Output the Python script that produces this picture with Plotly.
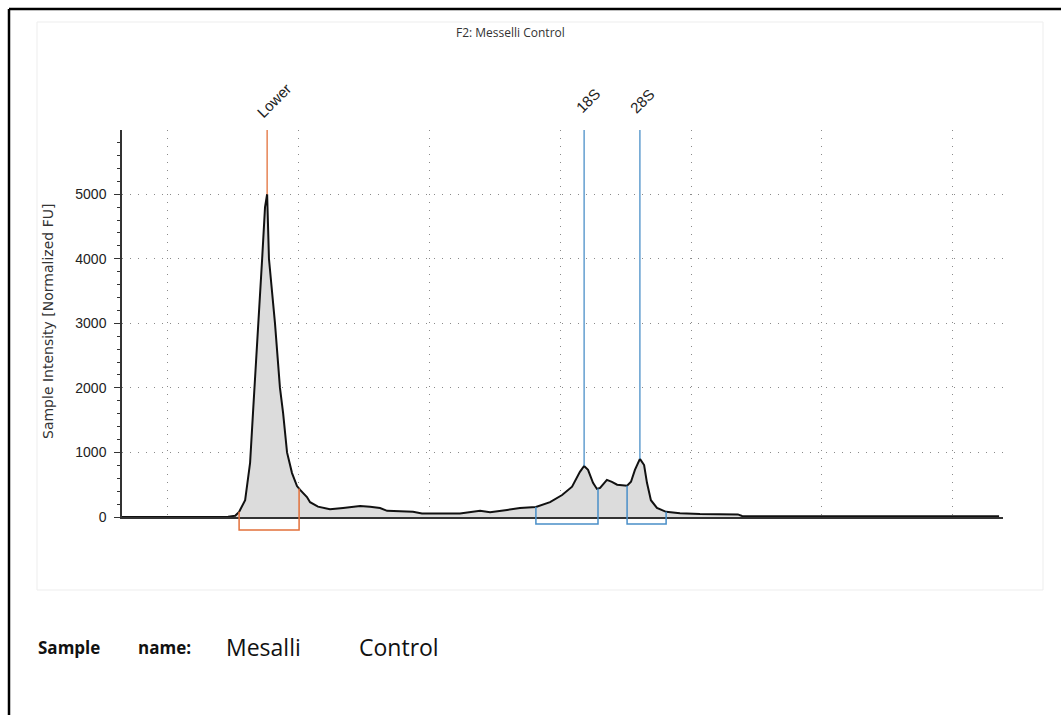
import numpy as np
import plotly.graph_objects as go

# ---------------- data (migration time in s, intensity in FU) ----------------
time_s = [18.28, 22.33, 22.60, 22.75, 22.98, 23.17, 23.28, 23.36, 23.47, 23.63,
          23.74, 23.82, 23.89, 24.12, 24.31, 24.43, 24.58, 24.77, 24.96, 25.08,
          25.34, 25.46, 25.76, 26.22, 26.72, 27.37, 27.75, 28.13, 28.40, 28.89,
          29.39, 29.73, 31.18, 31.95, 32.33, 32.98, 33.47, 34.08, 34.62, 35.08,
          35.46, 35.76, 35.92, 36.07, 36.26, 36.41, 36.53, 36.79, 36.98, 37.18,
          37.56, 37.71, 37.86, 38.05, 38.21, 38.32, 38.47, 38.70, 39.05, 39.58,
          40.34, 41.79, 41.95, 43.40, 51.76]
intensity = [0, 5, 20, 80, 260, 840, 1610, 2120, 3000, 4000,
             4800, 5000, 4000, 3000, 2000, 1610, 1000, 680, 480, 420,
             310, 230, 160, 120, 140, 170, 160, 140, 95, 90,
             80, 55, 55, 95, 75, 110, 140, 155, 230, 340,
             470, 700, 790, 730, 530, 435, 450, 575, 545, 500,
             485, 545, 730, 900, 805, 530, 260, 140, 80, 60,
             45, 40, 15, 10, 10]

peak_names = ["Lower", "18S", "28S"]
peak_time = [23.82, 35.92, 38.05]
peak_height = [5000, 790, 900]
peak_colors = ["#e2703a", "#4a8fc8", "#4a8fc8"]
# integration windows (start, end)
window_start = [22.75, 34.08, 37.56]
window_end = [25.04, 36.45, 39.05]

title_text = "F2: Messelli Control"
ytitle = "Sample Intensity [Normalized FU]"

W, H = 1061, 715
ML, MR, MT, MB = 122, 58, 130, 198
XR = [18.28, 51.91]
YR = [0, 5995]
plot_w = W - ML - MR
plot_h = H - MT - MB

def px_x(px):
    return (px - ML) / plot_w

def px_y(py):
    return (H - MB - py) / plot_h

fig = go.Figure()
fig.add_trace(go.Scatter(
    x=time_s, y=intensity, mode="lines",
    line=dict(color="#111111", width=2),
    fill="tozeroy", fillcolor="#dcdcdc",
    hoverinfo="skip", showlegend=False))

shapes = []
annotations = []

# marker lines + labels + brackets
label_shift = [7, 4, 3]
bracket_depth = [13, 7, 7]
for name, t, h, c, ws, we, sh, bd in zip(peak_names, peak_time, peak_height, peak_colors,
                                          window_start, window_end, label_shift, bracket_depth):
    shapes.append(dict(type="line", xref="x", yref="y", x0=t, x1=t, y0=h, y1=YR[1],
                       line=dict(color=c, width=1.3)))
    annotations.append(dict(x=t, y=px_y(101), xref="x", yref="paper", text=name,
                            showarrow=False, textangle=-45, xshift=sh,
                            xanchor="center", yanchor="middle",
                            font=dict(family="Arial, Liberation Sans", size=15, color="#222")))
    ys = float(np.interp(ws, time_s, intensity)) / YR[1]
    ye = float(np.interp(we, time_s, intensity)) / YR[1]
    yb = -bd / plot_h
    shapes.append(dict(type="path", xref="x", yref="paper",
                       path=f"M {ws},{ys} L {ws},{yb} L {we},{yb} L {we},{ye}",
                       line=dict(color=c, width=1.5)))

# faint panel frame
shapes.append(dict(type="rect", xref="paper", yref="paper",
                   x0=px_x(37), x1=px_x(1043), y0=px_y(590), y1=px_y(22),
                   line=dict(color="#ededed", width=1), layer="below"))
# page border (top and left)
shapes.append(dict(type="line", xref="paper", yref="paper",
                   x0=px_x(9), x1=px_x(1065), y0=px_y(9), y1=px_y(9),
                   line=dict(color="#000", width=2.5)))
shapes.append(dict(type="line", xref="paper", yref="paper",
                   x0=px_x(9), x1=px_x(9), y0=px_y(9), y1=px_y(720),
                   line=dict(color="#000", width=2.5)))

# title
annotations.append(dict(x=px_x(510), y=px_y(32), xref="paper", yref="paper",
                        text=title_text, showarrow=False, xanchor="center", yanchor="middle",
                        font=dict(family="Open Sans, Noto Sans", size=12, color="#333")))

# y axis title
annotations.append(dict(x=px_x(48), y=px_y(322), xref="paper", yref="paper",
                        text=ytitle, showarrow=False, textangle=-90,
                        xanchor="center", yanchor="middle",
                        font=dict(family="DejaVu Sans", size=14, color="#333")))

# sample name line
name_words = ["Sample", "name:", "Mesalli", "Control"]
name_x = [36, 136, 224, 357]
name_bold = [True, True, False, False]
name_size = [17, 17, 23, 23]
for wtxt, wx, b, fs in zip(name_words, name_x, name_bold, name_size):
    annotations.append(dict(x=px_x(wx), y=px_y(647), xref="paper", yref="paper",
                            text=f"<b>{wtxt}</b>" if b else wtxt, showarrow=False,
                            xanchor="left", yanchor="middle",
                            font=dict(family="Open Sans, Noto Sans", size=fs, color="#111")))

fig.update_layout(
    width=W, height=H,
    margin=dict(l=ML, r=MR, t=MT, b=MB, pad=0),
    paper_bgcolor="white", plot_bgcolor="white",
    showlegend=False,
    shapes=shapes, annotations=annotations,
    xaxis=dict(range=XR, tick0=20, dtick=5, showticklabels=False, ticks="",
               showgrid=True, gridcolor="#8a8a8a", griddash="1px,7px", gridwidth=1,
               zeroline=False, showline=True, linecolor="#333", linewidth=2,
               fixedrange=True),
    yaxis=dict(range=YR, tick0=0, dtick=1000, ticks="outside", ticklen=6,
               tickcolor="#333", tickwidth=1, ticklabelstandoff=5,
               minor=dict(dtick=200, ticks="outside", ticklen=3, tickcolor="#333", showgrid=False),
               showgrid=True, gridcolor="#8a8a8a", griddash="1px,7px", gridwidth=1,
               zeroline=False, showline=True, linecolor="#333", linewidth=1.5,
               tickfont=dict(family="Arial, Liberation Sans", size=14, color="#222"),
               fixedrange=True),
)

fig.write_html("out.html")
